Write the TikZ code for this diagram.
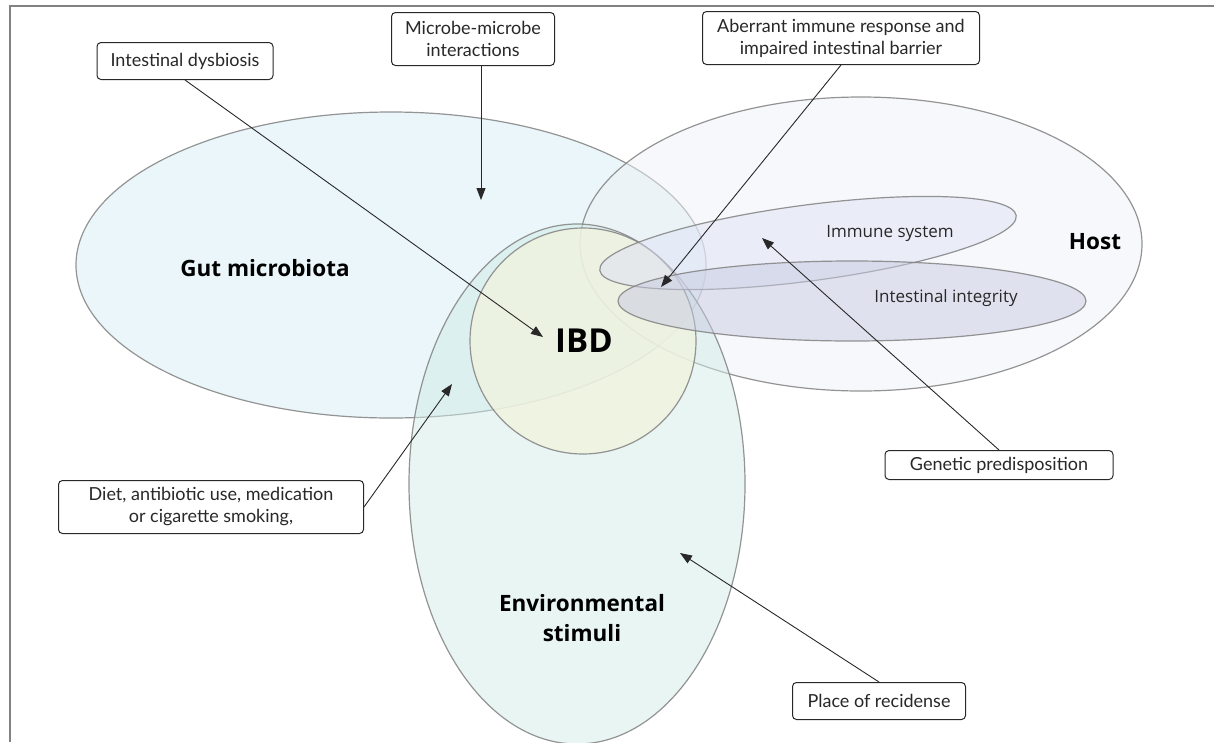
\documentclass[tikz,border=0pt]{standalone}
\usepackage{fontspec}
\setmainfont{Lato}
\newfontfamily\regionfont{Open Sans}
\usetikzlibrary{arrows.meta}

\definecolor{gutfill}{RGB}{213,237,243}
\definecolor{envfill}{RGB}{209,235,231}
\definecolor{ibdfill}{RGB}{240,243,223}
\definecolor{hostfill}{RGB}{239,241,247}
\definecolor{immfill}{RGB}{221,225,245}
\definecolor{intfill}{RGB}{199,203,225}
\definecolor{edge}{RGB}{130,130,130}
\definecolor{ink}{RGB}{40,40,40}

\tikzset{
  region/.style={draw=edge, line width=1.2pt, draw opacity=.85, fill opacity=.5},
  callout/.style={draw=ink, line width=1pt, rounded corners=4pt, fill=white,
    align=center, inner sep=0pt, font=\fontsize{18}{22}\selectfont, text=ink},
  pointer/.style={draw=ink, line width=.9pt, -{Triangle[length=12pt,width=9pt]}},
  bigname/.style={font=\regionfont\bfseries\fontsize{22.5}{30}\selectfont, align=center, text=black},
  smallname/.style={font=\regionfont\fontsize{17}{20}\selectfont, text=ink}
}

\begin{document}
\begin{tikzpicture}[x=1pt,y=-1pt]
\useasboundingbox (0,0) rectangle (1214,742);
% frame
\draw[edge, line width=1.5pt] (10,742) -- (10,6) -- (1214,6);

% regions
\fill[gutfill, region] (391,265) ellipse [x radius=315pt, y radius=153pt];
\fill[hostfill, region] (861,244) ellipse [x radius=281pt, y radius=147pt];
\fill[envfill, region] (577,484) ellipse [x radius=168pt, y radius=260pt];
\fill[ibdfill, region, fill opacity=.8] (583,341) circle [radius=113pt];
\fill[immfill, region] (808,243) ellipse [x radius=210pt, y radius=38pt, rotate=7.5];
\fill[intfill, region] (852,301) ellipse [x radius=234pt, y radius=40pt];

% region names
\node[bigname] (gut) at (265,268) {Gut microbiota};
\node[bigname] (host) at (1095,242) {Host};
\node[bigname] (env) at (582,618) {Environmental\\stimuli};
\node[font=\regionfont\bfseries\fontsize{33}{40}\selectfont] (ibd) at (584,341) {IBD};
\node[smallname] (imm) at (890,233) {Immune system};
\node[smallname] (intg) at (946,298) {Intestinal integrity};

% callouts
\node[callout, minimum width=176pt, minimum height=37pt] (dysb) at (185,61) {Intestinal dysbiosis};
\node[callout, minimum width=163pt, minimum height=53pt] (micro) at (473,39) {Microbe-microbe\\interactions};
\node[callout, minimum width=277pt, minimum height=53pt] (aber) at (841,38) {Aberrant immune response and\\impaired intestinal barrier};
\node[callout, minimum width=228pt, minimum height=29pt] (gene) at (999,465) {Genetic predisposition};
\node[callout, minimum width=305pt, minimum height=53pt] (diet) at (211,507) {Diet, antibiotic use, medication\\or cigarette smoking,};
\node[callout, minimum width=173pt, minimum height=37pt] (place) at (879,701) {Place of recidense};

% arrow tips
\coordinate (dysbtip) at (543,337);
\coordinate (microtip) at (481,200);
\coordinate (abertip) at (661,287);
\coordinate (genetip) at (762,238);
\coordinate (diettip) at (452,384);
\coordinate (placetip) at (680,553);

\draw[pointer] (dysb.south) -- (dysbtip);
\draw[pointer] (micro.south -| microtip) -- (microtip);
\draw[pointer] (aber.south) -- (abertip);
\draw[pointer] (gene.north) -- (genetip);
\draw[pointer] (diet.east) -- (diettip);
\draw[pointer] (place.north) -- (placetip);
\end{tikzpicture}
\end{document}
